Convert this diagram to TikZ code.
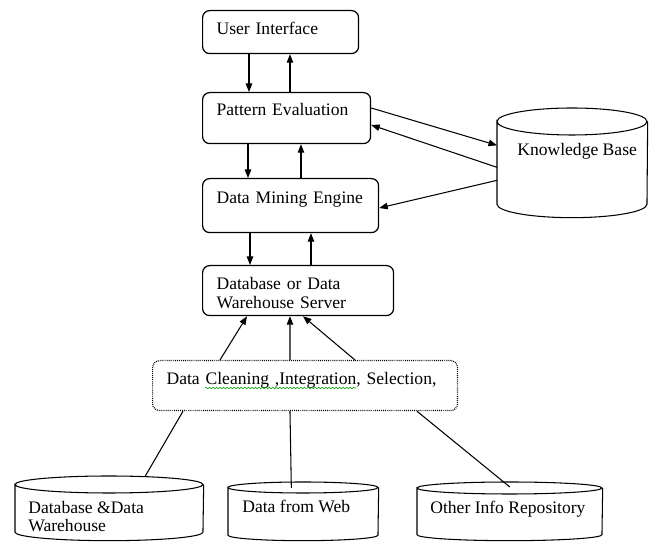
\documentclass[tikz,border=0pt]{standalone}
\usepackage{fontspec}
\setmainfont{Liberation Serif}
\usetikzlibrary{arrows.meta, decorations.pathmorphing}

\tikzset{
  box/.style={draw, rounded corners=4pt, anchor=north west, align=left, inner xsep=0.28cm, inner ysep=0pt, line width=0.7pt},
  % drum: width, height, radius of the end ellipses
  drum/.style n args={3}{anchor=north west, inner sep=0pt, minimum width=#1, minimum height=#2,
    append after command={\pgfextra{\draw[line width=0.6pt]
      ([yshift=-#3]\tikzlastnode.north west) arc[start angle=180, end angle=-180, x radius=0.5*#1, y radius=#3]
      -- ([yshift=#3]\tikzlastnode.south west) arc[start angle=180, end angle=360, x radius=0.5*#1, y radius=#3]
      -- ([yshift=-#3]\tikzlastnode.north east);}}},
  lbl/.style={anchor=base west, inner sep=0pt, align=left},
  arr/.style={-{Triangle[length=0.17cm, width=0.13cm]}, line width=0.6pt},
  feed/.style={line width=0.6pt},
}

\begin{document}
\begin{tikzpicture}[x=0.02cm, y=-0.02cm, every node/.style={font=\fontsize{10}{10.6}\selectfont}]
  \useasboundingbox (0,0) rectangle (649,546);

  % mining system, top to bottom
  \node[box, text width=2.56cm, text height=0.48cm, text depth=0.38cm] (ui) at (202,10) {User Interface};
  \node[box, text width=2.8cm, text height=0.46cm, text depth=0.56cm] (pe) at (202,92) {Pattern Evaluation};
  \node[box, text width=2.96cm, text height=0.5cm, text depth=0.58cm] (dme) at (202,178) {Data Mining Engine};
  \node[box, text width=3.26cm, text height=0.48cm, text depth=0.52cm] (db) at (202,265) {Database or Data\\Warehouse Server};
  \node[box, dash pattern=on 0.5pt off 0.6pt, text width=5.54cm, text height=0.48cm, text depth=0.52cm] (dc) at (152,360) {Data Cleaning ,Integration, Selection,};
  \draw[green!60!black, line width=0.3pt, decorate, decoration={snake, amplitude=0.5pt, segment length=2pt}] (205,388) -- (356,388); % spell check mark

  % data stores
  \node[drum={3cm}{2.18cm}{0.27cm}] (kb) at (497,108) {};
  \node[drum={3.76cm}{1.28cm}{0.17cm}] (dw) at (15,476) {};
  \node[drum={3cm}{1.16cm}{0.11cm}] (web) at (228,482) {};
  \node[drum={3.7cm}{1.16cm}{0.12cm}] (oir) at (417,482) {};
  \node[lbl] (kbt) at (517,156) {Knowledge Base};
  \node[lbl] (dwt) at (28,532) {Database \&Data\\Warehouse};
  \node[lbl] (webt) at (242,513) {Data from Web};
  \node[lbl] (oirt) at (430,514) {Other Info Repository};

  % up and down the stack
  \draw[arr] ([xshift=0.94cm]ui.south west) -- ([xshift=0.94cm]pe.north west);
  \draw[arr] ([xshift=1.76cm]pe.north west) -- ([xshift=1.76cm]ui.south west);
  \draw[arr] ([xshift=0.92cm]pe.south west) -- ([xshift=0.92cm]dme.north west);
  \draw[arr] ([xshift=1.98cm]dme.north west) -- ([xshift=1.98cm]pe.south west);
  \draw[arr] ([xshift=0.96cm]dme.south west) -- ([xshift=0.96cm]db.north west);
  \draw[arr] ([xshift=2.18cm]db.north west) -- ([xshift=2.18cm]dme.south west);

  % knowledge base
  \draw[arr] ([yshift=-0.32cm]pe.north east) -- ([yshift=0.35cm]kb.west);
  \draw[arr] ([yshift=-0.09cm]kb.west) -- ([yshift=-0.66cm]pe.north east);
  \draw[arr] ([yshift=-0.35cm]kb.west) -- ([yshift=-0.6cm]dme.north east);

  % cleaning feeds the server
  \draw[arr] ([xshift=1.36cm]dc.north west) -- ([xshift=0.9cm]db.south west);
  \draw[arr] ([xshift=2.76cm]dc.north west) -- ([xshift=1.76cm]db.south west);
  \draw[arr] ([xshift=4.06cm]dc.north west) -- ([xshift=2.02cm]db.south west);
  \draw[feed] ([xshift=0.62cm]dc.south west) -- ([xshift=0.72cm]dw.north);
  \draw[feed] ([xshift=2.76cm]dc.south west) -- ([xshift=-0.24cm,yshift=-0.12cm]web.north);
  \draw[feed] ([xshift=5.3cm]dc.south west) -- ([yshift=-0.1cm]oir.north);
\end{tikzpicture}
\end{document}
